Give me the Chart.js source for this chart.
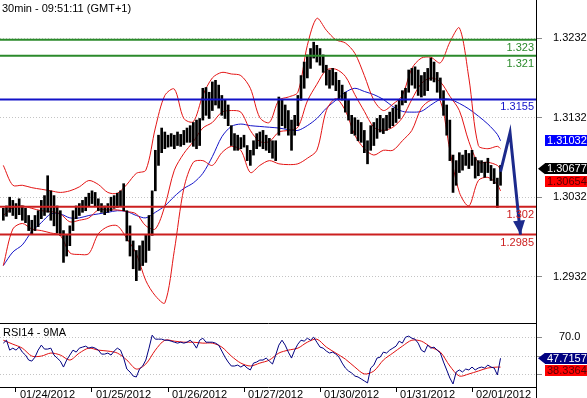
<!DOCTYPE html>
<html>
<head>
<meta charset="utf-8">
<script src="https://cdn.jsdelivr.net/npm/chart.js@4.4.0/dist/chart.umd.min.js"></script>
<style>
  html, body { margin: 0; padding: 0; background: #fff; }
  #wrap { position: relative; width: 587px; height: 398px; overflow: hidden; font-family: "Liberation Sans", Arial, sans-serif; }
  #main { position: absolute; left: 0; top: 0; }
  #rsi { position: absolute; left: 0; top: 323px; }
  .txt { position: absolute; font-size: 11px; color: #000; white-space: nowrap; line-height: 13px; }
</style>
</head>
<body>
<div id="wrap">
  <canvas id="main" width="587" height="323"></canvas>
  <canvas id="rsi" width="587" height="75"></canvas>
  <div class="txt" style="left:2px;top:2px">30min - 09:51:11 (GMT+1)</div>
  <div class="txt" style="left:3px;top:326px">RSI14 - 9MA</div>
</div>
<script>
// x axis is counted in 30min bars from 01/24/2012 00:00
const dayTicks = [0, 48, 96, 144, 192, 240, 288];
const dayLabels = ['01/24/2012', '01/25/2012', '01/26/2012', '01/27/2012', '01/30/2012', '01/31/2012', '02/01/2012'];
const priceTicks = [1.2932, 1.3032, 1.3132, 1.3232];
const rsiTicks = [30, 50, 70];
const rsiTickLabels = ['', '', '70.0'];

// one entry per hour (two 30min bars)
const barHigh = [
  1.3018, 1.3021, 1.3032, 1.3028, 1.3024, 1.3030, 1.3021, 1.3018, 1.3009, 1.3003,
  1.3009, 1.3015, 1.3028, 1.3034, 1.3059, 1.3040, 1.3034, 1.3021, 1.3015, 1.2990,
  1.2984, 1.2996, 1.3015, 1.3021, 1.3024, 1.3028, 1.3032, 1.3037, 1.3040, 1.3038,
  1.3030, 1.3024, 1.3021, 1.3024, 1.3032, 1.3034, 1.3037, 1.3040, 1.3049, 1.3015,
  1.2996, 1.2977, 1.2965, 1.2971, 1.2977, 1.2984, 1.3009, 1.3040, 1.3091, 1.3110,
  1.3119, 1.3114, 1.3110, 1.3112, 1.3110, 1.3114, 1.3111, 1.3116, 1.3119, 1.3122,
  1.3126, 1.3129, 1.3131, 1.3169, 1.3170, 1.3164, 1.3177, 1.3179, 1.3173, 1.3160,
  1.3154, 1.3148, 1.3122, 1.3112, 1.3110, 1.3107, 1.3110, 1.3097, 1.3091, 1.3103,
  1.3112, 1.3114, 1.3116, 1.3110, 1.3106, 1.3103, 1.3103, 1.3158, 1.3154, 1.3148,
  1.3141, 1.3129, 1.3135, 1.3160, 1.3185, 1.3202, 1.3211, 1.3219, 1.3227, 1.3223,
  1.3219, 1.3211, 1.3198, 1.3192, 1.3194, 1.3189, 1.3179, 1.3173, 1.3164, 1.3154,
  1.3135, 1.3132, 1.3129, 1.3126, 1.3116, 1.3103, 1.3122, 1.3126, 1.3131, 1.3135,
  1.3131, 1.3135, 1.3139, 1.3144, 1.3148, 1.3154, 1.3166, 1.3169, 1.3192, 1.3194,
  1.3196, 1.3192, 1.3185, 1.3189, 1.3194, 1.3207, 1.3202, 1.3189, 1.3182, 1.3166,
  1.3148, 1.3129, 1.3085, 1.3078, 1.3088, 1.3085, 1.3091, 1.3087, 1.3091, 1.3082,
  1.3078, 1.3078, 1.3076, 1.3081, 1.3072, 1.3068, 1.3056, 1.3072
];
const barLow = [
  1.3003, 1.3008, 1.3013, 1.3009, 1.3005, 1.3010, 1.3003, 1.3000, 1.2990, 1.2985,
  1.2990, 1.2995, 1.3005, 1.3009, 1.3013, 1.3003, 1.2996, 1.2987, 1.2984, 1.2950,
  1.2958, 1.2971, 1.2990, 1.3005, 1.3009, 1.3013, 1.3015, 1.3021, 1.3024, 1.3020,
  1.3015, 1.3013, 1.3010, 1.3013, 1.3015, 1.3018, 1.3019, 1.3021, 1.3015, 1.2977,
  1.2958, 1.2942, 1.2927, 1.2940, 1.2946, 1.2950, 1.2965, 1.2984, 1.3040, 1.3072,
  1.3088, 1.3093, 1.3095, 1.3096, 1.3093, 1.3097, 1.3096, 1.3098, 1.3101, 1.3101,
  1.3096, 1.3093, 1.3097, 1.3129, 1.3135, 1.3131, 1.3141, 1.3148, 1.3144, 1.3135,
  1.3131, 1.3122, 1.3097, 1.3091, 1.3091, 1.3093, 1.3095, 1.3078, 1.3072, 1.3085,
  1.3093, 1.3096, 1.3093, 1.3091, 1.3088, 1.3081, 1.3078, 1.3110, 1.3122, 1.3119,
  1.3110, 1.3091, 1.3110, 1.3122, 1.3154, 1.3169, 1.3182, 1.3194, 1.3207, 1.3202,
  1.3198, 1.3189, 1.3173, 1.3169, 1.3173, 1.3166, 1.3156, 1.3154, 1.3139, 1.3129,
  1.3112, 1.3110, 1.3103, 1.3101, 1.3088, 1.3074, 1.3091, 1.3097, 1.3106, 1.3114,
  1.3112, 1.3116, 1.3119, 1.3122, 1.3126, 1.3131, 1.3148, 1.3151, 1.3164, 1.3173,
  1.3169, 1.3160, 1.3158, 1.3160, 1.3166, 1.3179, 1.3177, 1.3164, 1.3156, 1.3135,
  1.3110, 1.3078, 1.3038, 1.3047, 1.3063, 1.3066, 1.3072, 1.3068, 1.3072, 1.3056,
  1.3059, 1.3063, 1.3057, 1.3063, 1.3053, 1.3049, 1.3019, 1.3047
];

// bollinger bands and moving average, one entry every 3 hours
const bbUpper = [
  1.3072, 1.3047, 1.3047, 1.3044, 1.3042, 1.3040, 1.3038, 1.3040, 1.3045, 1.3053,
  1.3048, 1.3038, 1.3037, 1.3048, 1.3062, 1.3066, 1.3119, 1.3160, 1.3168, 1.3131,
  1.3127, 1.3160, 1.3182, 1.3189, 1.3187, 1.3185, 1.3169, 1.3132, 1.3126, 1.3154,
  1.3158, 1.3164, 1.3223, 1.3257, 1.3242, 1.3230, 1.3226, 1.3213, 1.3185, 1.3154,
  1.3141, 1.3149, 1.3160, 1.3194, 1.3207, 1.3208, 1.3201, 1.3227, 1.3245, 1.3182,
  1.3097, 1.3093, 1.3096, 1.3093
];
const bbMiddle = [
  1.3009, 1.3019, 1.3021, 1.3018, 1.3015, 1.3014, 1.3011, 1.3001, 1.3003, 1.3006,
  1.3016, 1.3016, 1.3016, 1.3014, 1.3011, 1.2996, 1.2992, 1.3021, 1.3066, 1.3087,
  1.3102, 1.3119, 1.3126, 1.3139, 1.3141, 1.3139, 1.3116, 1.3102, 1.3102, 1.3114,
  1.3116, 1.3120, 1.3153, 1.3174, 1.3192, 1.3193, 1.3184, 1.3161, 1.3140, 1.3120,
  1.3116, 1.3120, 1.3132, 1.3155, 1.3175, 1.3182, 1.3177, 1.3159, 1.3141, 1.3102,
  1.3076, 1.3076, 1.3072, 1.3067
];
const bbLower = [
  1.2946, 1.2992, 1.2999, 1.2992, 1.2990, 1.2987, 1.2984, 1.2962, 1.2960, 1.2961,
  1.2986, 1.2995, 1.2996, 1.2980, 1.2961, 1.2927, 1.2908, 1.2899, 1.2965, 1.3043,
  1.3076, 1.3078, 1.3072, 1.3088, 1.3096, 1.3091, 1.3063, 1.3072, 1.3078, 1.3074,
  1.3073, 1.3074, 1.3081, 1.3091, 1.3141, 1.3156, 1.3141, 1.3110, 1.3093, 1.3085,
  1.3091, 1.3091, 1.3103, 1.3116, 1.3144, 1.3154, 1.3153, 1.3091, 1.3038, 1.3021,
  1.3053, 1.3057, 1.3048, 1.3040
];
const maLine = [
  1.2946, 1.2963, 1.2972, 1.2989, 1.3000, 1.3011, 1.3011, 1.3006, 1.3006, 1.3009,
  1.3011, 1.3013, 1.3015, 1.3014, 1.3009, 1.3006, 1.3013, 1.3021, 1.3033, 1.3043,
  1.3050, 1.3062, 1.3083, 1.3108, 1.3121, 1.3124, 1.3122, 1.3121, 1.3120, 1.3119,
  1.3117, 1.3116, 1.3122, 1.3131, 1.3144, 1.3154, 1.3164, 1.3169, 1.3165, 1.3161,
  1.3155, 1.3146, 1.3140, 1.3139, 1.3140, 1.3148, 1.3155, 1.3155, 1.3150, 1.3143,
  1.3134, 1.3124, 1.3111, 1.3103
];

// RSI14 hourly, its 9MA every 3 hours
const rsiValues = [
  63.7, 66.8, 56.3, 58.4, 56.3, 59.5, 54.2, 51.1, 45.8, 44.7,
  48.9, 56.3, 61.6, 57.4, 57.4, 58.4, 51.1, 47.9, 44.7, 38.4,
  45.8, 51.1, 56.3, 54.2, 58.4, 59.5, 60.5, 58.4, 59.5, 58.4,
  56.3, 52.1, 52.1, 53.2, 51.1, 55.3, 58.4, 56.3, 47.9, 36.3,
  33.2, 28.9, 27.9, 36.3, 39.5, 45.8, 58.4, 72.1, 67.9, 67.9,
  67.9, 66.8, 66.8, 65.8, 64.7, 63.7, 64.7, 63.7, 64.7, 66.8,
  63.7, 58.4, 66.8, 68.9, 64.7, 64.7, 64.7, 63.7, 61.6, 55.3,
  48.9, 43.7, 39.5, 39.5, 40.5, 38.4, 40.5, 37.4, 35.3, 42.6,
  43.7, 45.8, 45.8, 47.9, 44.7, 41.6, 51.1, 61.6, 66.8, 61.6,
  54.2, 47.9, 56.3, 62.6, 66.8, 65.8, 68.9, 66.8, 70.0, 64.7,
  59.5, 58.4, 55.3, 53.2, 54.2, 52.1, 48.9, 42.6, 37.4, 34.2,
  32.1, 28.9, 27.9, 25.8, 23.7, 21.6, 37.4, 40.5, 47.9, 48.9,
  54.2, 53.2, 56.3, 58.4, 60.5, 65.8, 63.7, 70.0, 71.1, 68.9,
  67.9, 63.7, 56.3, 54.2, 61.6, 58.4, 59.5, 56.3, 53.2, 43.7,
  35.3, 26.8, 20.5, 33.2, 35.3, 33.2, 36.3, 35.3, 38.4, 35.3,
  37.4, 38.4, 37.4, 40.5, 38.4, 37.4, 30.0, 47.7157
];
const rsiMa = [
  66.8, 62.6, 58.4, 50.0, 50.0, 53.2, 51.1, 45.8, 53.2, 58.4,
  56.3, 55.3, 53.2, 45.8, 36.3, 41.6, 56.3, 66.8, 65.8, 64.7,
  64.7, 63.7, 63.7, 59.5, 50.0, 42.6, 39.5, 42.6, 45.8, 53.2,
  56.3, 58.4, 64.7, 67.9, 59.5, 53.2, 46.8, 38.4, 31.1, 34.2,
  45.8, 53.2, 60.5, 66.8, 65.8, 59.5, 54.2, 39.5, 28.9, 31.1,
  34.2, 37.4, 38.4, 38.3364
];

const levels = [1.323, 1.321, 1.3155, 1.302, 1.2985];
const levelText = ['1.323', '1.321', '1.3155', '1.302', '1.2985'];
const arrowTime = [306, 312, 318.6];
const arrowPrice = [1.3064, 1.3113, 1.2985];
const priceTags = [1.31032, 1.30677, 1.30654];
const rsiTags = [47.7157, 38.3364];

// ---- layout / style ----
const X_MIN = -10.1, X_MAX = 328.4;
const FONT = '"Liberation Sans", Arial, sans-serif';
const levelColors = ['#2b8a2b', '#2b8a2b', '#1212c8', '#cc1f1f', '#cc1f1f'];
const priceTagStyle = [
  { bg: '#0000ff', fg: '#ffffff', pointer: false },
  { bg: '#000000', fg: '#ffffff', pointer: true },
  { bg: '#ff0000', fg: '#5a0000', pointer: false }
];
const rsiTagStyle = [
  { bg: '#000080', fg: '#ffffff', pointer: true },
  { bg: '#ff0000', fg: '#5a0000', pointer: false }
];

const barTime = barHigh.map((_, k) => -8 + 2 * k);
const lineTime = bbUpper.map((_, j) => Math.min(-8 + 6 * j, 306));
const pts = (xs, ys) => ys.map((v, i) => ({ x: xs[i], y: v }));

function drawTags(chart, values, styles, decimals) {
  const { ctx, chartArea, scales: { y } } = chart;
  const h = 11;
  let prev = -Infinity;
  ctx.save();
  ctx.font = '11px ' + FONT;
  ctx.textBaseline = 'middle';
  ctx.textAlign = 'left';
  values.forEach((v, i) => {
    const s = styles[i];
    let cy = y.getPixelForValue(v);
    if (cy < prev + 12.5) cy = prev + 12.5;
    prev = cy;
    const x0 = chartArea.right + 9;
    ctx.fillStyle = s.bg;
    ctx.fillRect(x0, Math.round(cy - h / 2), chart.width - x0, h);
    if (s.pointer) {
      ctx.beginPath();
      ctx.moveTo(chartArea.right + 2, cy);
      ctx.lineTo(x0, cy - h / 2);
      ctx.lineTo(x0, cy + h / 2);
      ctx.closePath();
      ctx.fill();
    }
    ctx.fillStyle = s.fg;
    ctx.fillText(v.toFixed(decimals), x0 + 2, cy + 0.5);
  });
  ctx.restore();
}

const mainPlugin = {
  id: 'mainExtras',
  afterDatasetsDraw(chart) {
    const { ctx, chartArea, scales: { y } } = chart;
    ctx.save();
    ctx.font = '11px ' + FONT;
    ctx.textAlign = 'right';
    ctx.textBaseline = 'middle';
    levels.forEach((v, i) => {
      ctx.fillStyle = levelColors[i];
      ctx.fillText(levelText[i], chartArea.right - 2, y.getPixelForValue(v) + 8);
    });
    // arrow head on the forecast line
    const meta = chart.getDatasetMeta(chart.data.datasets.length - 1);
    const a = meta.data[meta.data.length - 2], b = meta.data[meta.data.length - 1];
    const dx = b.x - a.x, dy = b.y - a.y, len = Math.hypot(dx, dy);
    const ux = dx / len, uy = dy / len;
    const bx = b.x - ux * 14, by = b.y - uy * 14;
    ctx.fillStyle = '#1c2a8c';
    ctx.beginPath();
    ctx.moveTo(b.x, b.y);
    ctx.lineTo(bx - uy * 6, by + ux * 6);
    ctx.lineTo(bx + uy * 6, by - ux * 6);
    ctx.closePath();
    ctx.fill();
    ctx.restore();
  },
  afterDraw(chart) {
    drawTags(chart, priceTags, priceTagStyle, 5);
  }
};

const rsiPlugin = {
  id: 'rsiExtras',
  afterDraw(chart) {
    const { ctx, chartArea } = chart;
    ctx.save();
    ctx.strokeStyle = '#000';
    ctx.lineWidth = 1;
    ctx.beginPath();
    ctx.moveTo(0, chartArea.top + 0.5);
    ctx.lineTo(chartArea.right + 1, chartArea.top + 0.5);
    ctx.moveTo(chartArea.right + 0.5, chartArea.bottom);
    ctx.lineTo(chartArea.right + 0.5, chart.height);
    ctx.stroke();
    ctx.restore();
    drawTags(chart, rsiTags, rsiTagStyle, 4);
  }
};

const band = (data, color) => ({
  type: 'line', data: pts(lineTime, data), borderColor: color, borderWidth: 1,
  pointRadius: 0, tension: 0.3, order: 2
});

const levelSets = levels.map((v, i) => ({
  type: 'line', data: [{ x: X_MIN, y: v }, { x: X_MAX, y: v }],
  borderColor: levelColors[i], borderWidth: 2, pointRadius: 0, order: 0
}));

new Chart(document.getElementById('main'), {
  type: 'bar',
  data: {
    datasets: [
      {
        type: 'bar', data: barHigh.map((hi, k) => ({ x: barTime[k], y: [barLow[k], hi] })),
        backgroundColor: '#000', barThickness: 2, borderWidth: 0, grouped: false, order: 1
      },
      band(bbUpper, '#e31414'),
      band(bbMiddle, '#e31414'),
      band(bbLower, '#e31414'),
      band(maLine, '#1414c8'),
      ...levelSets,
      {
        type: 'line', data: pts(arrowTime, arrowPrice), borderColor: '#1c2a8c', borderWidth: 3,
        pointRadius: 0, tension: 0, order: -1
      }
    ]
  },
  options: {
    responsive: false, animation: false, events: [],
    layout: { autoPadding: false, padding: 0 },
    plugins: { legend: { display: false }, tooltip: { enabled: false } },
    scales: {
      x: { type: 'linear', display: false, min: X_MIN, max: X_MAX, offset: false, grid: { offset: false } },
      y: {
        position: 'right', min: 1.287377, max: 1.328005,
        afterBuildTicks: s => { s.ticks = priceTicks.map(v => ({ value: v })); },
        afterFit: s => { s.width = 51; s.paddingTop = 0; s.paddingBottom = 0; },
        ticks: { callback: v => v.toFixed(4), color: '#000', padding: 11, font: { family: FONT, size: 11 } },
        grid: { color: '#c4c4c4', tickColor: '#8a8a8a', tickLength: 6 },
        border: { color: '#000', width: 1, dash: [1, 2] }
      }
    }
  },
  plugins: [mainPlugin]
});

new Chart(document.getElementById('rsi'), {
  type: 'line',
  data: {
    datasets: [
      { data: pts(lineTime, rsiMa), borderColor: '#e01010', borderWidth: 1, pointRadius: 0, tension: 0.3, order: 1 },
      { data: pts(barTime, rsiValues), borderColor: '#000080', borderWidth: 1, pointRadius: 0, tension: 0, order: 0 }
    ]
  },
  options: {
    responsive: false, animation: false, events: [],
    layout: { autoPadding: false, padding: 0 },
    plugins: { legend: { display: false }, tooltip: { enabled: false } },
    scales: {
      x: {
        type: 'linear', min: X_MIN, max: X_MAX, offset: false,
        afterBuildTicks: s => { s.ticks = dayTicks.map(v => ({ value: v })); },
        afterFit: s => { s.height = 11; },
        ticks: {
          callback: (v, i) => dayLabels[i], align: 'start', labelOffset: 4, padding: -4,
          autoSkip: false, maxRotation: 0, color: '#000', font: { family: FONT, size: 11 }
        },
        grid: { drawOnChartArea: false, drawTicks: true, tickLength: 5, tickColor: '#000', offset: false },
        border: { color: '#000', width: 1 }
      },
      y: {
        position: 'right', min: 17.3, max: 85,
        afterBuildTicks: s => { s.ticks = rsiTicks.map(v => ({ value: v })); },
        afterFit: s => { s.width = 51; s.paddingTop = 0; s.paddingBottom = 0; },
        ticks: { callback: (v, i) => rsiTickLabels[i], color: '#000', padding: 17, font: { family: FONT, size: 11 } },
        grid: { color: '#c4c4c4', tickColor: '#8a8a8a', tickLength: 6 },
        border: { color: '#000', width: 1, dash: [1, 2] }
      }
    }
  },
  plugins: [rsiPlugin]
});
</script>
</body>
</html>
